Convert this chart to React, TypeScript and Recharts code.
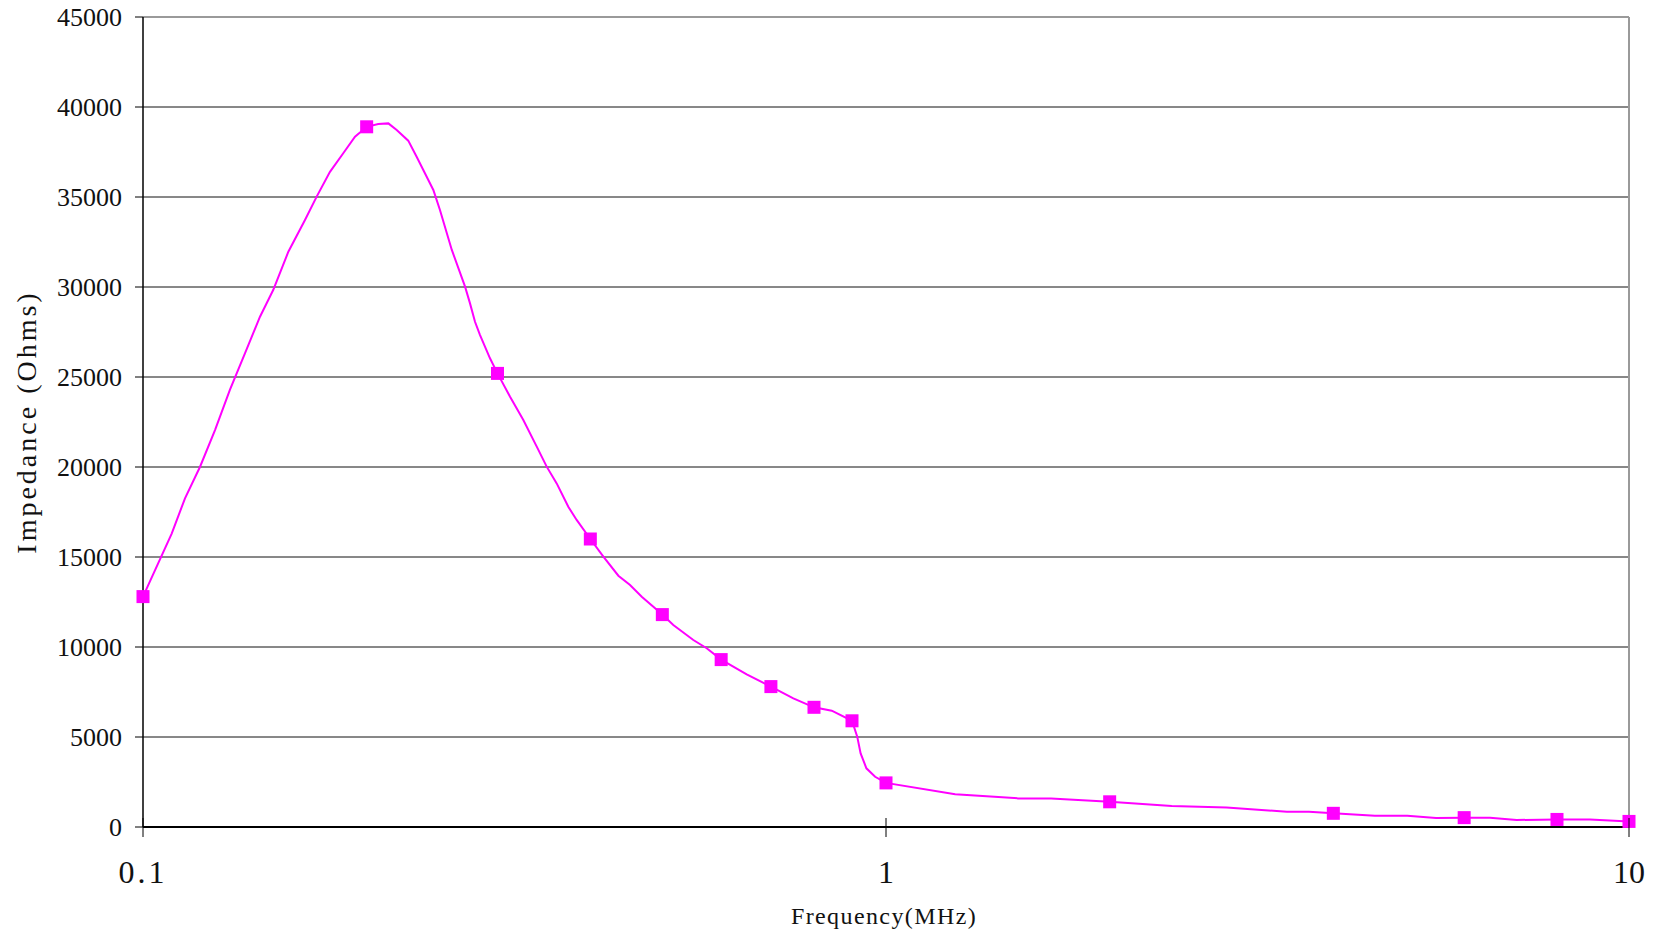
import React from 'react';
import {
  ComposedChart,
  Line,
  Scatter,
  XAxis,
  YAxis,
  CartesianGrid,
  ReferenceLine,
} from 'recharts';

// Measured curve (frequency in MHz, impedance in Ohms)
const curveFreqs = [
  0.1, 0.1093, 0.1139, 0.1193, 0.125, 0.1309, 0.1372, 0.1437, 0.1497, 0.1569,
  0.1652, 0.1713, 0.1785, 0.186, 0.1929, 0.2, 0.2073, 0.2139, 0.2195, 0.2275,
  0.2335, 0.2459, 0.251, 0.2604, 0.2713, 0.2755, 0.2798, 0.2842, 0.2931, 0.3,
  0.3119, 0.325, 0.3388, 0.3494, 0.3604, 0.3736, 0.3834, 0.4, 0.4165, 0.4363,
  0.4524, 0.4691, 0.5, 0.5173, 0.5504, 0.5737, 0.6, 0.6494, 0.7, 0.7504,
  0.8, 0.8452, 0.9, 0.9147, 0.9244, 0.9411, 0.9669, 1.0, 1.239, 1.507,
  1.668, 2.0, 2.424, 2.873, 3.464, 3.709, 4.0, 4.55, 5.03, 5.5,
  6.0, 6.5, 7.06, 8.0, 8.86, 10.0,
];
const curveValues = [
  12800, 16300, 18260, 20000, 22050, 24280, 26320, 28350, 29830, 31960,
  33720, 35020, 36400, 37430, 38350, 38900, 39060, 39090, 38720, 38130,
  37240, 35390, 34280, 32060, 30020, 29090, 28070, 27330, 26040, 25200,
  23900, 22610, 21130, 20020, 19090, 17790, 17060, 16000, 15020, 13960,
  13440, 12790, 11800, 11220, 10390, 9930, 9300, 8480, 7800, 7150,
  6650, 6460, 5900, 5020, 4090, 3260, 2790, 2450, 1820, 1590,
  1590, 1400, 1170, 1090, 850, 850, 760, 630, 620, 500,
  520, 519, 390, 420, 420, 310,
];

// Marked points
const markerFreqs = [0.1, 0.2, 0.3, 0.4, 0.5, 0.6, 0.7, 0.8, 0.9, 1, 2, 4, 6, 8, 10];
const markerValues = [12800, 38900, 25200, 16000, 11800, 9300, 7800, 6650, 5900, 2450, 1400, 760, 520, 420, 310];

const xTicks = [0.1, 1, 10];
const xTickLabels = ['0.1', '1', '10'];
const yTicks = [0, 5000, 10000, 15000, 20000, 25000, 30000, 35000, 40000, 45000];

const curveData = curveFreqs.map((f, i) => ({ f, z: curveValues[i] }));
const markerData = markerFreqs.map((f, i) => ({ f, z: markerValues[i] }));

const FONT = '"Liberation Serif", "DejaVu Serif", serif';
const MAGENTA = '#FF00FF';

const XTick = (props: any) => {
  const { x, y, payload } = props;
  const idx = xTicks.indexOf(payload.value);
  const label = idx >= 0 ? xTickLabels[idx] : String(payload.value);
  return (
    <g>
      <line x1={x} x2={x} y1={y - 9} y2={y + 10} stroke="#000" strokeWidth={1} />
      <text
        x={x}
        y={y + 45}
        textAnchor="middle"
        dominantBaseline="central"
        fontSize={32}
        fontFamily={FONT}
        letterSpacing={idx === 0 ? 3 : 0}
        fill="#111"
      >
        {label}
      </text>
    </g>
  );
};

const SquareDot = (props: any) => {
  const { cx, cy } = props;
  if (cx == null || cy == null) return null;
  return <rect x={cx - 6.5} y={cy - 6.5} width={13} height={13} fill={MAGENTA} />;
};

const YTitle = (props: any) => {
  const vb = props.viewBox || {};
  const cx = vb.x - 16.5;
  const cy = vb.y + vb.height / 2;
  return (
    <text
      x={cx}
      y={cy}
      transform={`rotate(-90, ${cx}, ${cy})`}
      textAnchor="middle"
      dominantBaseline="central"
      fontSize={28}
      fontFamily={FONT}
      letterSpacing={3}
      fill="#111"
    >
      Impedance (Ohms)
    </text>
  );
};

const XTitle = (props: any) => {
  const vb = props.viewBox || {};
  const cx = vb.x + vb.width / 2 - 2;
  const cy = vb.y + 89;
  return (
    <text
      x={cx}
      y={cy}
      textAnchor="middle"
      dominantBaseline="central"
      fontSize={24}
      fontFamily={FONT}
      letterSpacing={1.4}
      fill="#111"
    >
      Frequency(MHz)
    </text>
  );
};

export default function App() {
  return (
    <div style={{ position: 'absolute', left: 0, top: 0, width: 1658, height: 932, background: '#fff' }}>
      <ComposedChart
        width={1658}
        height={932}
        data={curveData}
        margin={{ top: 17, right: 29, bottom: 45, left: 43 }}
      >
        <CartesianGrid vertical={false} stroke="#111" strokeWidth={1} />
        <XAxis
          dataKey="f"
          type="number"
          scale="log"
          domain={[0.1, 10]}
          ticks={xTicks}
          height={60}
          tickSize={0}
          tickMargin={0}
          tickLine={false}
          axisLine={{ stroke: '#000', strokeWidth: 2 }}
          tick={<XTick />}
          interval={0}
          label={{ content: <XTitle /> }}
        />
        <YAxis
          dataKey="z"
          type="number"
          domain={[0, 45000]}
          ticks={yTicks}
          interval={0}
          width={100}
          tickSize={8}
          tickMargin={13}
          axisLine={{ stroke: '#000', strokeWidth: 1.5 }}
          tickLine={{ stroke: '#000' }}
          tick={{ fontSize: 26, fontFamily: FONT, fill: '#111' }}
          label={{ content: <YTitle /> }}
        />
        <ReferenceLine y={45000} stroke="#9a9a9a" strokeWidth={2} />
        <ReferenceLine x={10} stroke="#9a9a9a" strokeWidth={2} />
        <Line
          data={curveData}
          dataKey="z"
          type="linear"
          stroke={MAGENTA}
          strokeWidth={2}
          dot={false}
          activeDot={false}
          isAnimationActive={false}
        />
        <Scatter
          data={markerData}
          dataKey="z"
          fill={MAGENTA}
          shape={<SquareDot />}
          isAnimationActive={false}
        />
      </ComposedChart>
    </div>
  );
}
